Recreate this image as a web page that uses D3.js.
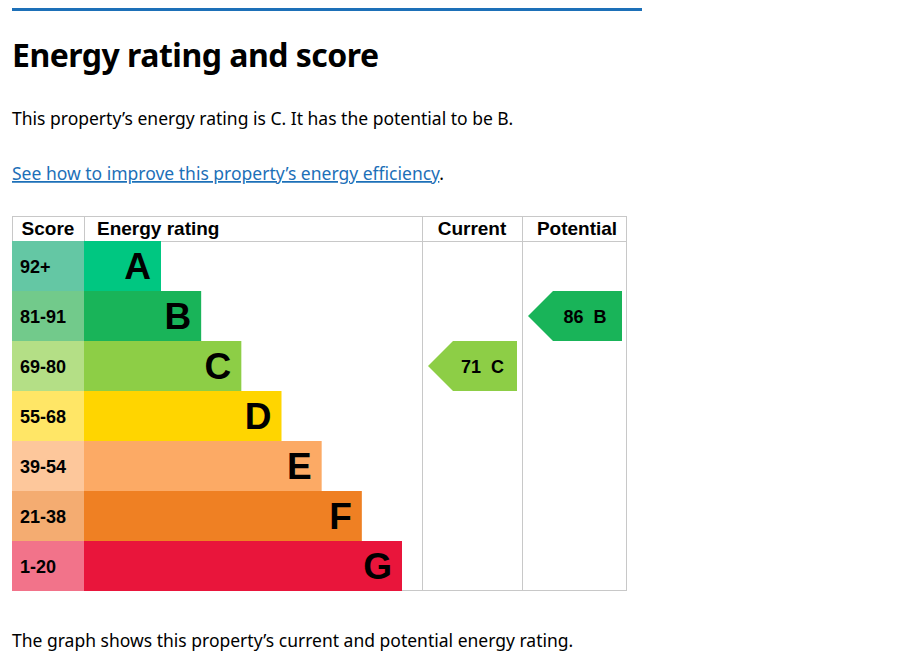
<!DOCTYPE html>
<html><head><meta charset="utf-8">
<script src="https://cdn.jsdelivr.net/npm/d3@7"></script>
<style>
body{margin:0;background:#fff;font-family:"Noto Sans",Arial,sans-serif;color:#0b0c0c}
</style></head>
<body><svg id="c" width="906" height="669"></svg>
<script>
const ratings = ['A','B','C','D','E','F','G'];
const scoreBands = ['92+','81-91','69-80','55-68','39-54','21-38','1-20'];
const barColors = ['#00c781','#19b459','#8dce46','#ffd500','#fcaa65','#ef8023','#e9153b'];
const scoreColors = ['#64c7a4','#72ca8b','#b4df86','#ffe666','#fdc79b','#f4ac71','#f2738a'];
const current = {score: 71, rating: 'C'};
const potential = {score: 86, rating: 'B'};

const svg = d3.select('#c');

svg.append('rect').attr('x',12).attr('y',8).attr('width',630).attr('height',3).attr('fill','#1d70b8');
svg.append('text').attr('x',12).attr('y',67).attr('font-size',32).attr('font-weight','bold')
  .attr('letter-spacing','-0.5').text('Energy rating and score');
svg.append('text').attr('x',12).attr('y',125).attr('font-size',17.5)
  .text('This property\u2019s energy rating is C. It has the potential to be B.');
const link = svg.append('text').attr('x',12).attr('y',180).attr('font-size',17.5);
link.append('tspan').attr('fill','#1d70b8').attr('text-decoration','underline')
  .text('See how to improve this property\u2019s energy efficiency');
link.append('tspan').text('.');
svg.append('text').attr('x',12).attr('y',647).attr('font-size',17.5)
  .text('The graph shows this property\u2019s current and potential energy rating.');

// chart
const cLeft = 12, cRight = 627, cTop = 216, head = 25;
const y = d3.scaleBand().domain(ratings).range([cTop + head, cTop + head + 350]);
const barLen = d3.scaleLinear().domain([0, ratings.length - 1]).range([161, 402]);
const colX = {score: [12, 84], cur: [422, 522], pot: [522, 627]};

const g = svg.append('g').attr('font-family','"Liberation Sans",Arial,sans-serif').attr('font-weight','bold');

// grid lines
const grid = '#c8c8c8';
g.append('rect').attr('x',cLeft+0.5).attr('y',cTop+0.5).attr('width',cRight-cLeft-1).attr('height',head+350-1)
  .attr('fill','none').attr('stroke',grid);
g.append('line').attr('x1',cLeft).attr('x2',cRight).attr('y1',cTop+head+0.5).attr('y2',cTop+head+0.5).attr('stroke',grid);
[84, 422, 522].forEach(x => g.append('line').attr('x1',x+0.5).attr('x2',x+0.5)
  .attr('y1',cTop).attr('y2', x===84 ? cTop+head : cTop+head+350).attr('stroke',grid));

const heads = [['Score',48],['Energy rating',97,'start'],['Current',472],['Potential',577]];
heads.forEach(h => g.append('text').attr('x',h[1]).attr('y',cTop+19).attr('font-size',19)
  .attr('text-anchor',h[2]||'middle').text(h[0]));

const rows = g.selectAll('g.row').data(ratings).enter().append('g');
rows.append('rect').attr('x',colX.score[0]).attr('y',d=>y(d)).attr('width',colX.score[1]-colX.score[0])
  .attr('height',y.bandwidth()).attr('fill',(d,i)=>scoreColors[i]);
rows.append('rect').attr('x',84).attr('y',d=>y(d)).attr('width',(d,i)=>barLen(i)-84)
  .attr('height',y.bandwidth()).attr('fill',(d,i)=>barColors[i]);
rows.append('text').attr('x',20).attr('y',d=>y(d)+y.bandwidth()/2+6.5).attr('font-size',18)
  .text((d,i)=>scoreBands[i]);
rows.append('text').attr('x',(d,i)=>barLen(i)-10).attr('y',d=>y(d)+y.bandwidth()/2+13)
  .attr('font-size',37).attr('text-anchor','end').text(d=>d);

function arrow(rec, col) {
  const i = ratings.indexOf(rec.rating);
  const x0 = col[0] + 6, x1 = col[1] - 5, t = y(rec.rating), h = y.bandwidth();
  g.append('path').attr('d', `M${x0},${t+h/2}L${x0+25},${t}H${x1}V${t+h}H${x0+25}Z`).attr('fill', barColors[i]);
  g.append('text').attr('x',(x0+x1)/2+10).attr('y',t+h/2+6.5).attr('font-size',18)
    .attr('text-anchor','middle').attr('xml:space','preserve').text(rec.score + '  ' + rec.rating);
}
arrow(current, colX.cur);
arrow(potential, colX.pot);
</script></body></html>
